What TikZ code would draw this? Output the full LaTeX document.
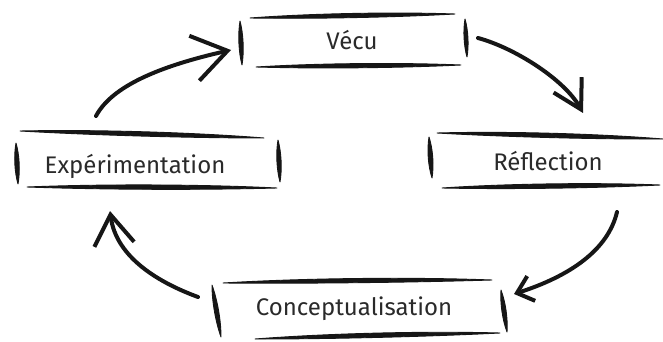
\documentclass[tikz,border=0pt]{standalone}
\usepackage{fontspec}
\setmainfont{Fira Sans}
\usetikzlibrary{arrows.meta,calc}
\definecolor{ink}{HTML}{161616}
\definecolor{txt}{HTML}{2A2A2A}
% brush stroke: from A to B, half-thickness w (pt), bow b (pt)
\newcommand\brush[4]{%
  \filldraw[ink, line width=0.9pt, line join=round]
    (#1) .. controls ($(#1)!0.3!(#2)!{(#3+#4)*1pt}!90:(#2)$) and ($(#1)!0.7!(#2)!{(#3+#4)*1pt}!-90:(#1)$) .. (#2)
         .. controls ($(#1)!0.7!(#2)!{(#3-#4)*1pt}!90:(#1)$) and ($(#1)!0.3!(#2)!{(#3-#4)*1pt}!-90:(#2)$) .. cycle;}
\tikzset{
  label/.style={anchor=base, inner sep=0pt, text=txt, font=\fontsize{24}{28}\selectfont},
  conn/.style={draw=ink, line width=4pt, line cap=round, line join=round},
}
\begin{document}
\begin{tikzpicture}[x=1pt, y=-1pt]
\useasboundingbox (0,0) rectangle (663,342);
% text nodes
\node[label] (V) at (352,50) {Vécu};
\node[label] (E) at (135,173) {Expérimentation};
\node[label] (R) at (548,170) {Réflection};
\node[label] (C) at (354,315) {Conceptualisation};
% Vécu box
\brush{250,18}{455,14}{2.8}{0.6}
\brush{256,67}{461,65}{2.8}{0.4}
\brush{240,21}{242,65}{2.8}{0}
\brush{465,19}{467,57}{2.6}{0}
% Expérimentation box
\brush{20,131}{264,138}{2.9}{0.8}
\brush{27,187}{277,188}{2.9}{0.5}
\brush{16,143}{18,184}{2.9}{0}
\brush{278,140}{280,182}{2.8}{0}
% Réflection box
\brush{437,133}{663,139}{2.9}{0.8}
\brush{442,188}{660,185}{2.9}{0.6}
\brush{429,137}{432,178}{3.0}{0}
% Conceptualisation box
\brush{223,283}{492,280}{2.8}{1.2}
\brush{255,339}{500,333}{2.9}{1.0}
\brush{212,285}{221,337}{2.8}{0}
\brush{501,290}{507,332}{2.8}{0}
% connector end points
\coordinate (e-out) at (96,116);
\coordinate (v-in) at (231,50);
\coordinate (v-out) at (478,38);
\coordinate (r-in) at (583,113);
\coordinate (r-out) at (617,212);
\coordinate (c-in) at (514,294);
\coordinate (c-out) at (198,297);
\coordinate (e-in) at (110,211);
% connectors
\draw[conn, -{Straight Barb[length=34pt,width=46pt]}] (e-out) .. controls (112,86) and (160,66) .. (v-in);
\draw[conn, -{Straight Barb[length=28pt,width=32pt]}] (v-out) .. controls (515,48) and (565,80) .. (r-in);
\draw[conn, -{Straight Barb[length=15pt,width=26pt]}] (r-out) .. controls (608,250) and (570,276) .. (c-in);
\draw[conn, -{Straight Barb[length=30pt,width=40pt]}] (c-out) .. controls (160,283) and (116,258) .. (e-in);
\end{tikzpicture}
\end{document}
